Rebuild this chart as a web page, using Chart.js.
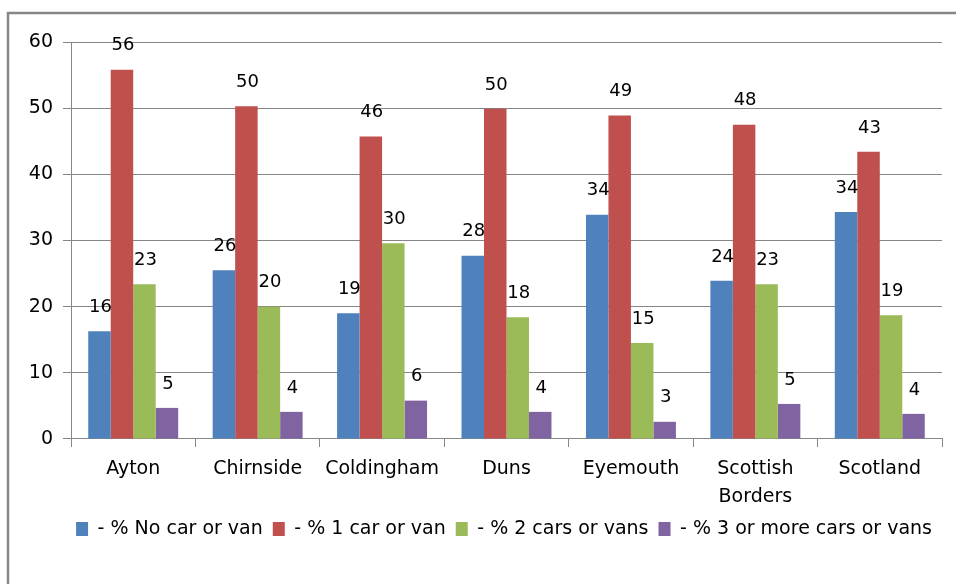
<!DOCTYPE html>
<html>
<head>
<meta charset="utf-8">
<script src="https://cdn.jsdelivr.net/npm/chart.js@4.4.1/dist/chart.umd.min.js"></script>
<style>
  html, body { margin: 0; padding: 0; background: #fff; }
  #wrap { position: relative; width: 956px; height: 584px; }
</style>
</head>
<body>
<div id="wrap"><canvas id="carChart" width="956" height="584"></canvas></div>
<script>
// data
const places = ['Ayton', 'Chirnside', 'Coldingham', 'Duns', 'Eyemouth', ['Scottish', 'Borders'], 'Scotland'];
const noCar = [16.3, 25.5, 19.0, 27.7, 33.9, 23.9, 34.3];
const oneCar = [55.8, 50.3, 45.7, 49.9, 48.9, 47.5, 43.4];
const twoCars = [23.4, 20.0, 29.6, 18.4, 14.5, 23.4, 18.7];
const threePlus = [4.7, 4.1, 5.8, 4.1, 2.6, 5.3, 3.8];
const yTicks = [0, 10, 20, 30, 40, 50, 60];

const GREY = '#868686';
const FONT = "'DejaVu Sans', Verdana, sans-serif";
const LEGEND_GAP = 90; // legend row sits this far below the x axis line

// frame: only top and left edges show in the picture
const framePlugin = {
    id: 'frame',
    beforeDraw(chart) {
        const ctx = chart.ctx;
        ctx.save();
        ctx.fillStyle = '#fff';
        ctx.fillRect(0, 0, chart.width, chart.height);
        ctx.strokeStyle = GREY;
        ctx.lineWidth = 2.5;
        ctx.beginPath();
        ctx.moveTo(8, chart.height);
        ctx.lineTo(8, 13);
        ctx.lineTo(chart.width + 5, 13);
        ctx.stroke();
        ctx.restore();
    }
};

// pull the legend up a little closer to the category labels
const legendNudge = {
    id: 'legendNudge',
    afterLayout(chart) {
        const lg = chart.legend;
        const want = chart.chartArea.bottom + LEGEND_GAP - 10 - 19 / 2;
        const dy = want - lg.top;
        lg.top += dy;
        lg.bottom += dy;
    }
};

// rounded value above each bar
const valueLabels = {
    id: 'valueLabels',
    afterDatasetsDraw(chart) {
        const ctx = chart.ctx;
        ctx.save();
        ctx.font = '18px ' + FONT;
        ctx.fillStyle = '#000';
        ctx.textAlign = 'center';
        ctx.textBaseline = 'middle';
        chart.data.datasets.forEach((ds, i) => {
            chart.getDatasetMeta(i).data.forEach((bar, j) => {
                ctx.fillText(Math.round(ds.data[j]), bar.x + 1, bar.y - 24);
            });
        });
        ctx.restore();
    }
};

function makeSet(label, values, color) {
    return { label: label, data: values, backgroundColor: color, borderWidth: 0 };
}

new Chart(document.getElementById('carChart'), {
    type: 'bar',
    data: {
        labels: places,
        datasets: [
            makeSet('- % No car or van', noCar, '#4F81BD'),
            makeSet('- % 1 car or van', oneCar, '#C0504D'),
            makeSet('- % 2 cars or vans', twoCars, '#9BBB59'),
            makeSet('- % 3 or more cars or vans', threePlus, '#8064A2')
        ]
    },
    options: {
        responsive: false,
        animation: false,
        layout: { padding: { top: 42, right: 14, left: 0, bottom: 26 } },
        datasets: { bar: { categoryPercentage: 0.723, barPercentage: 1.0 } },
        plugins: {
            tooltip: { enabled: false },
            legend: {
                position: 'bottom',
                align: 'end',
                labels: {
                    color: '#000',
                    font: { family: FONT, size: 19 },
                    boxWidth: 12,
                    boxHeight: 14,
                    padding: 10
                }
            }
        },
        scales: {
            x: {
                grid: { display: true, drawOnChartArea: false, drawTicks: true, tickLength: 8, color: GREY, offset: true },
                border: { display: true, color: GREY, width: 1 },
                ticks: { color: '#000', font: { family: FONT, size: 19, lineHeight: 1.4737 }, padding: 8, maxRotation: 0, autoSkip: false }
            },
            y: {
                min: 0,
                max: 60,
                afterBuildTicks: (scale) => { scale.ticks = yTicks.map(v => ({ value: v })); },
                afterFit: (scale) => { scale.width = 71; },
                grid: { color: GREY, lineWidth: 1, tickLength: 8 },
                border: { display: true, color: GREY, width: 1 },
                ticks: { color: '#000', font: { family: FONT, size: 19 }, padding: 10 }
            }
        }
    },
    plugins: [framePlugin, legendNudge, valueLabels]
});
</script>
</body>
</html>
